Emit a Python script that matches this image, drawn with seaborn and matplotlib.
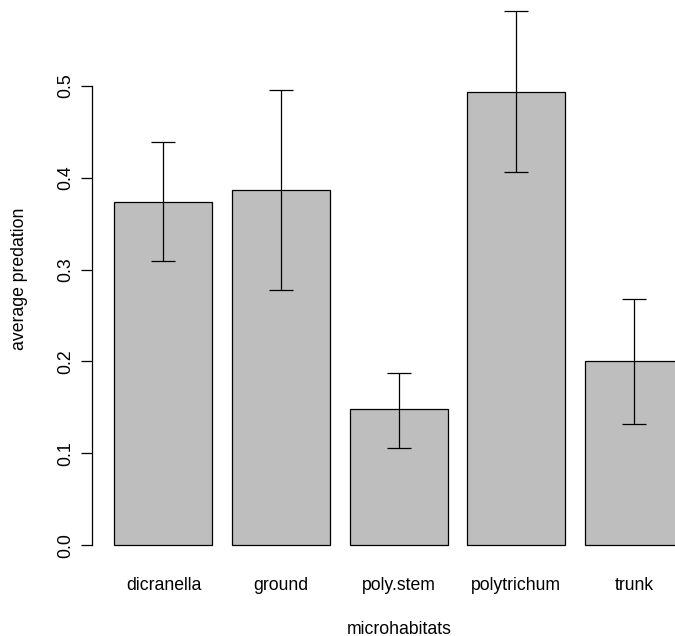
import matplotlib
matplotlib.use("Agg")
import matplotlib.pyplot as plt
import seaborn as sns
import pandas as pd
import numpy as np

categories = ["dicranella", "ground", "poly.stem", "polytrichum", "trunk"]
means = [0.3736, 0.3870, 0.1480, 0.4936, 0.2005]
lower = [0.3090, 0.2775, 0.1062, 0.4062, 0.1323]
upper = [0.4389, 0.4958, 0.1878, 0.5810, 0.2683]
yticks = [0.0, 0.1, 0.2, 0.3, 0.4, 0.5]
ytick_labels = ["0.0", "0.1", "0.2", "0.3", "0.4", "0.5"]
xlabel = "microhabitats"
ylabel = "average predation"

sns.set_theme(style="white")
plt.rcParams["font.family"] = ["Liberation Sans", "DejaVu Sans"]

W, H = 675, 636
fig = plt.figure(figsize=(W / 100, H / 100), dpi=100)
left_px, right_px, top_px, bottom_px = 91.7, 705.8, -9.8, 566.6
ax = fig.add_axes([left_px / W, 1 - bottom_px / H,
                   (right_px - left_px) / W, (bottom_px - top_px) / H])

df = pd.DataFrame({"microhabitats": categories, "avg": means})
sns.barplot(data=df, x="microhabitats", y="avg", color="#bebebe",
            saturation=1, edgecolor="black", linewidth=0.9,
            width=1 / 1.2, errorbar=None, ax=ax)

m = np.array(means)
lo = np.array(lower)
hi = np.array(upper)
xpos = np.arange(len(categories))
ax.errorbar(xpos, m, yerr=[m - lo, hi - m], fmt="none", ecolor="black",
            elinewidth=0.9, capsize=8.4, capthick=0.9, zorder=5)

ax.set_xlim(-0.61, 4.61)
ax.set_ylim(-0.0232, 0.604)
ax.set_yticks(yticks)
ax.set_yticklabels(ytick_labels)

for s in ["top", "right", "bottom"]:
    ax.spines[s].set_visible(False)
ax.spines["left"].set_bounds(0, 0.5)
ax.spines["left"].set_color("black")
ax.spines["left"].set_linewidth(0.9)

ax.tick_params(axis="y", left=True, length=7.7, width=0.9, pad=5.2,
               labelsize=12.7, labelrotation=90, colors="black")
for t in ax.get_yticklabels():
    t.set_va("center")
ax.tick_params(axis="x", bottom=False, length=0, pad=7.3, labelsize=12.7,
               colors="black")

ax.set_xlabel(xlabel, fontsize=12.7, color="black")
ax.set_ylabel(ylabel, fontsize=12.7, color="black")
ax.xaxis.set_label_coords(0.5, -(633.5 - bottom_px) / (bottom_px - top_px))
ax.xaxis.label.set_va("baseline")
ax.yaxis.set_label_coords((19 - left_px) / (right_px - left_px), 0.5)
ax.yaxis.label.set_va("center")

fig.savefig("out.png", dpi=100)
